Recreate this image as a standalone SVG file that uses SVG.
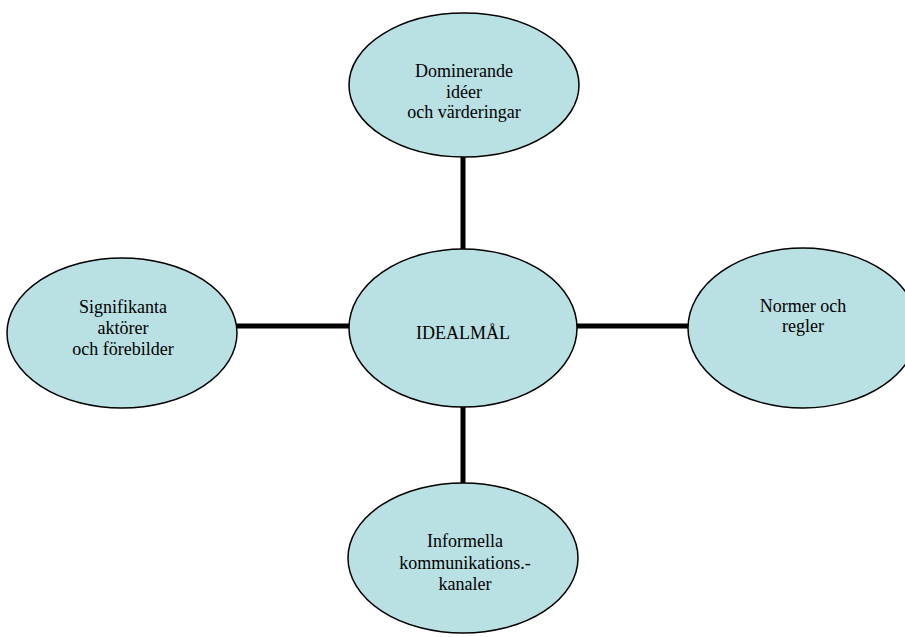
<svg xmlns="http://www.w3.org/2000/svg" width="905" height="637" viewBox="0 0 905 637">
<style>
.n ellipse{fill:#B9E0E3;stroke:#000;stroke-width:1.5}
.n text{font-family:"Liberation Serif","Times New Roman",serif;font-size:18px;fill:#000;text-anchor:middle}
.c line{stroke:#000;stroke-width:5}
</style>
<rect width="905" height="637" fill="#fff"/>
<g id="connectors" class="c">
<line x1="463" y1="156" x2="463" y2="249"/>
<line x1="463" y1="406" x2="463" y2="484"/>
<line x1="236" y1="326" x2="350" y2="326"/>
<line x1="576" y1="326" x2="689" y2="326"/>
</g>
<g id="top" class="n">
<ellipse cx="464" cy="85" rx="115" ry="72"/>
<text x="464" y="77">Dominerande</text>
<text x="464" y="97.5">idéer</text>
<text x="464" y="118">och värderingar</text>
</g>
<g id="center" class="n">
<ellipse cx="463" cy="328" rx="114" ry="79"/>
<text x="463" y="339">IDEALMÅL</text>
</g>
<g id="left" class="n">
<ellipse cx="122" cy="333" rx="115" ry="75"/>
<text x="123" y="313">Signifikanta</text>
<text x="123" y="334">aktörer</text>
<text x="123" y="355">och förebilder</text>
</g>
<g id="right" class="n">
<ellipse cx="803" cy="328" rx="115" ry="80"/>
<text x="803" y="312">Normer och</text>
<text x="803" y="332">regler</text>
</g>
<g id="bottom" class="n">
<ellipse cx="463" cy="558" rx="115" ry="75"/>
<text x="465" y="547">Informella</text>
<text x="465" y="569">kommunikations.-</text>
<text x="465" y="590">kanaler</text>
</g>
</svg>
